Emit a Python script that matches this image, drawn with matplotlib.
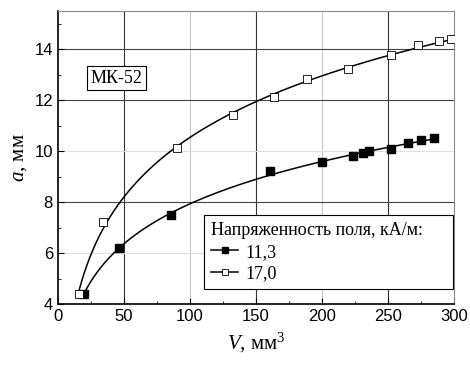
import numpy as np
import matplotlib
matplotlib.use("Agg")
import matplotlib.pyplot as plt
from matplotlib.ticker import MultipleLocator

# field strength 11,3 kA/m
v_113 = [19.7, 46.2, 85.6, 161, 200, 223.7, 231.3, 235.8, 252.5, 265, 275, 285]
a_113 = [4.4, 6.2, 7.5, 9.22, 9.58, 9.8, 9.93, 10.01, 10.08, 10.33, 10.42, 10.5]

# field strength 17,0 kA/m
v_170 = [16, 34.3, 90, 133, 163.4, 189, 220, 252.5, 273, 289, 298]
a_170 = [4.4, 7.2, 10.13, 11.41, 12.12, 12.82, 13.23, 13.76, 14.18, 14.31, 14.38]

labels = ["11,3", "17,0"]

serif = ["Liberation Serif", "DejaVu Serif"]
plt.rcParams["font.family"] = ["Liberation Sans", "DejaVu Sans"]
plt.rcParams["mathtext.fontset"] = "custom"
plt.rcParams["mathtext.rm"] = "Liberation Serif"
plt.rcParams["mathtext.it"] = "Liberation Serif:italic"

fig = plt.figure(figsize=(4.7, 3.65), dpi=100)
ax = fig.add_axes([0.123, 0.167, 0.843, 0.803])


def fit_curve(v, a, v_end):
    c = np.polyfit(np.log(v), a, 2)
    xs = np.linspace(v[0] * 0.97, v_end, 200)
    return xs, np.polyval(c, np.log(xs))


xs, ys = fit_curve(v_113, a_113, 287)
ax.plot(xs, ys, color="black", lw=1.1, zorder=3)
ax.plot(v_113, a_113, ls="none", marker="s", ms=6, color="black", zorder=4)

xs, ys = fit_curve(v_170, a_170, 300)
ax.plot(xs, ys, color="black", lw=1.1, zorder=3)
ax.plot(v_170, a_170, ls="none", marker="s", ms=5.5, mfc="white", mec="black",
        mew=0.6, zorder=4)

ax.set_xlim(0, 300)
ax.set_ylim(4, 15.5)
ax.xaxis.set_major_locator(MultipleLocator(50))
ax.xaxis.set_minor_locator(MultipleLocator(25))
ax.yaxis.set_major_locator(MultipleLocator(2))
ax.yaxis.set_minor_locator(MultipleLocator(1))
ax.tick_params(which="both", direction="in", labelsize=12, color="black")
ax.tick_params(which="major", length=4)
ax.tick_params(which="minor", length=2.5)

# grid: darker and lighter lines
for x in [50, 150, 250]:
    ax.axvline(x, color="#333333", lw=0.8, zorder=1)
for x in [100, 200]:
    ax.axvline(x, color="#c8c8c8", lw=0.8, zorder=1)
for y in [8, 12, 14]:
    ax.axhline(y, color="#444444", lw=0.8, zorder=1)
for y in [6, 10]:
    ax.axhline(y, color="#e0e0e0", lw=0.8, zorder=1)

for s in ["top", "right"]:
    ax.spines[s].set_color("#888888")
ax.spines["left"].set_linewidth(1.2)
ax.spines["bottom"].set_linewidth(1.2)

ax.set_xlabel(r"$V$, мм$^3$", family=serif, fontsize=15, labelpad=5)
ax.set_ylabel(r"$a$, мм", family=serif, fontsize=15, labelpad=4)

ax.text(0.083, 0.77, "МК-52", transform=ax.transAxes, family=serif,
        fontsize=13, va="center",
        bbox=dict(facecolor="white", edgecolor="black", lw=0.8, pad=2.5),
        zorder=5)

h1, = ax.plot([], [], color="black", lw=1.1, marker="s", ms=5)
h2, = ax.plot([], [], color="black", lw=1.1, marker="s", ms=5, mfc="white",
              mew=0.6)
leg = ax.legend([h1, h2], labels, title="Напряженность поля, кА/м:     ",
                loc="lower right", bbox_to_anchor=(0.997, 0.05),
                prop=dict(family=serif, size=13), handlelength=1.5,
                handletextpad=0.4, fancybox=False, framealpha=1,
                edgecolor="black", borderpad=0.4, labelspacing=0.25,
                borderaxespad=0, alignment="left")
leg.get_title().set_family(serif)
leg.get_title().set_fontsize(13)
leg.get_frame().set_linewidth(0.8)
leg.set_zorder(6)

fig.savefig("out.png", dpi=100)
